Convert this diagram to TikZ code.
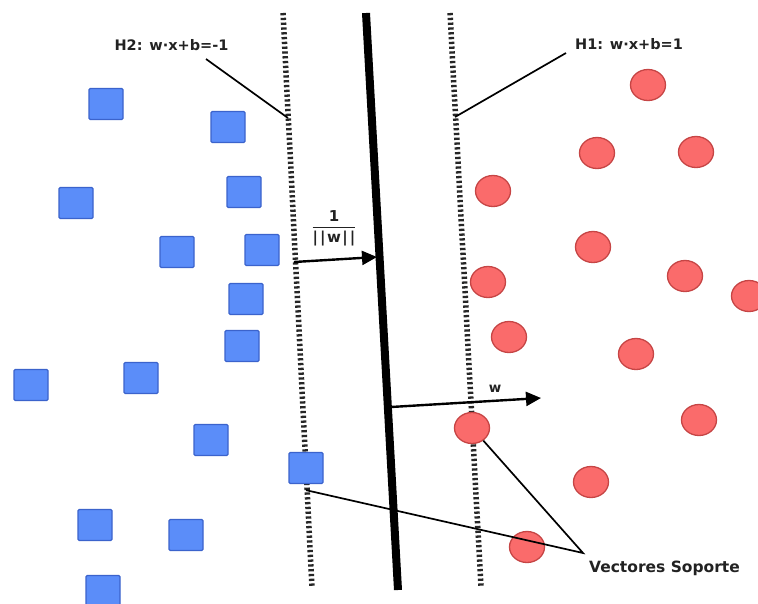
\documentclass[tikz,border=0pt]{standalone}
\usepackage{amsmath}
\usepackage{fontspec}
\setmainfont{DejaVu Sans}
\usetikzlibrary{arrows.meta,shapes.geometric}

\definecolor{sqfill}{HTML}{5B8DF9}
\definecolor{sqdraw}{HTML}{3B63CC}
\definecolor{cfill}{HTML}{FA6B6B}
\definecolor{cdraw}{HTML}{C64545}
\definecolor{ink}{HTML}{222222}

\begin{document}
\begin{tikzpicture}[x=1pt,y=-1pt,
  negpt/.style={draw=sqdraw,fill=sqfill,line width=1.3pt,minimum width=34pt,
    minimum height=31pt,inner sep=0pt,rounded corners=1.2pt},
  pospt/.style={ellipse,draw=cdraw,fill=cfill,line width=1.3pt,minimum width=35pt,
    minimum height=31pt,inner sep=0pt},
  marginline/.style={line width=5.5pt,black!85,dash pattern=on 2.3pt off 2.5pt},
  hyperline/.style={line width=8pt,black},
  pointer/.style={line width=1.7pt,black},
  vecarrow/.style={line width=2.4pt,-{Triangle[length=15pt,width=14pt]}},
  lbl/.style={font=\fontsize{14.5}{16}\bfseries\selectfont,text=ink,inner sep=0pt},
  smalllbl/.style={font=\fontsize{13.5}{15}\bfseries\selectfont,text=ink,inner sep=0pt},
]
\useasboundingbox[fill=white] (0,0) rectangle (758,603);

% margin hyperplanes and separating hyperplane
\coordinate (h2top) at (283,13);
\coordinate (h2bot) at (312,587);
\coordinate (h0top) at (366,13);
\coordinate (h0bot) at (398,590);
\coordinate (h1top) at (450,13);
\coordinate (h1bot) at (481,587);
\draw[marginline] (h2top) -- (h2bot);
\draw[marginline] (h1top) -- (h1bot);
\draw[hyperline] (h0top) -- (h0bot);

% class -1 samples
\node[negpt] (s1)  at (106,104) {};
\node[negpt] (s2)  at (228,127) {};
\node[negpt] (s3)  at (76,203) {};
\node[negpt] (s4)  at (244,192) {};
\node[negpt] (s5)  at (177,252) {};
\node[negpt] (s6)  at (262,250) {};
\node[negpt] (s7)  at (246,299) {};
\node[negpt] (s8)  at (242,346) {};
\node[negpt] (s9)  at (31,385) {};
\node[negpt] (s10) at (141,378) {};
\node[negpt] (s11) at (211,440) {};
\node[negpt] (s12) at (306,468) {};
\node[negpt] (s13) at (95,525) {};
\node[negpt] (s14) at (186,535) {};
\node[negpt] (s15) at (103,591) {};

% class +1 samples
\node[pospt] (c1)  at (648,85) {};
\node[pospt] (c2)  at (597,153) {};
\node[pospt] (c3)  at (696,152) {};
\node[pospt] (c4)  at (493,191) {};
\node[pospt] (c5)  at (593,247) {};
\node[pospt] (c6)  at (488,282) {};
\node[pospt] (c7)  at (685,276) {};
\node[pospt] (c8)  at (749,296) {};
\node[pospt] (c9)  at (509,337) {};
\node[pospt] (c10) at (636,354) {};
\node[pospt] (c11) at (472,428) {};
\node[pospt] (c12) at (699,420) {};
\node[pospt] (c13) at (591,482) {};
\node[pospt] (c14) at (527,547) {};

% margin width and normal vector
\coordinate (m1) at (294,262);
\coordinate (m2) at (377,257);
\draw[vecarrow] (m1) -- (m2);
\node[smalllbl,font=\fontsize{15}{17}\bfseries\selectfont] (fraclab) at (334,228)
  {$\genfrac{}{}{1pt}{0}{\text{1}}{\text{|\kern2pt|\kern1.5pt w\kern1.5pt|\kern2pt|}}$};

\coordinate (wA) at (391,407);
\coordinate (wB) at (541,398);
\draw[vecarrow] (wA) -- (wB);
\node[smalllbl] (wlab) at (495,389) {w};

% hyperplane labels
\node[lbl] (h2lab) at (171.5,45) {H2: w·x+b=-1};
\coordinate (h2from) at (206,59);
\coordinate (h2pt) at (288,118);
\draw[pointer] (h2from) -- (h2pt);

\node[lbl] (h1lab) at (629,44) {H1: w·x+b=1};
\coordinate (h1from) at (566,53);
\coordinate (h1pt) at (455,117);
\draw[pointer] (h1from) -- (h1pt);

% support vectors
\node[lbl,font=\fontsize{15.5}{17}\bfseries\selectfont] (vslab) at (664.5,568) {Vectores Soporte};
\coordinate (vsjoin) at (583,553);
\draw[pointer] (c11.-48) -- (vsjoin) -- ([yshift=-6pt]s12.south);
\end{tikzpicture}
\end{document}
